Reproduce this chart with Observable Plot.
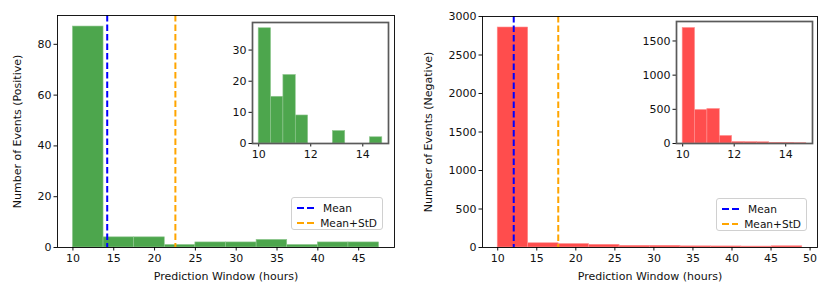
<!DOCTYPE html>
<html>
<head>
<meta charset="utf-8">
<script src="https://cdn.jsdelivr.net/npm/d3@7"></script>
<script src="https://cdn.jsdelivr.net/npm/@observablehq/plot@0.6"></script>
<style>
  body { margin: 0; background: white; font-family: "DejaVu Sans", sans-serif; }
  #wrap { position: relative; width: 830px; height: 294px; overflow: hidden; }
  #wrap > svg, #wrap > div { position: absolute; }
  #wrap svg text { font-family: "DejaVu Sans", sans-serif; }
  .legend { border: 1px solid #d0d0d0; border-radius: 3px; background: rgba(255,255,255,0.85);
            font-size: 10.6px; color: #111; padding: 2px 5px 2px 5px; box-sizing: border-box; }
  .legend .row { display: flex; align-items: center; height: 15px; }
  .legend svg { margin-right: 6px; }
</style>
</head>
<body>
<div id="wrap"></div>
<script>
// ---------- data ----------
// Positive events: main histogram
const posEdges = [10, 13.75, 17.5, 21.25, 25, 28.75, 32.5, 36.25, 40, 43.75, 47.5];
const posCounts = [87, 4, 4, 1, 2, 2, 3, 1, 2, 2];
// Positive events: inset histogram (10 to ~15 h)
const posInsetEdges = [10, 10.475, 10.95, 11.425, 11.9, 12.375, 12.85, 13.325, 13.8, 14.275, 14.75];
const posInsetCounts = [37, 15, 22, 9, 0, 0, 4, 0, 0, 2];
const posMean = 14.2;
const posMeanStd = 22.55;

// Negative events: main histogram
const negEdges = [10, 13.9, 17.8, 21.7, 25.6, 29.5, 33.4, 37.3, 41.2, 45.1, 49.0];
const negCounts = [2857, 55, 45, 35, 22, 22, 15, 14, 12, 16];
// Negative events: inset histogram
const negInsetEdges = [10, 10.48, 10.96, 11.44, 11.92, 12.4, 12.88, 13.36, 13.84, 14.32, 14.8];
const negInsetCounts = [1690, 490, 505, 110, 22, 20, 18, 10, 8, 4];
const negMean = 12.05;
const negMeanStd = 17.75;

// ticks
const posXTicks = [10, 15, 20, 25, 30, 35, 40, 45];
const posYTicks = [0, 20, 40, 60, 80];
const negXTicks = [10, 15, 20, 25, 30, 35, 40, 45, 50];
const negYTicks = [0, 500, 1000, 1500, 2000, 2500, 3000];
const insetXTicks = [10, 12, 14];
const posInsetYTicks = [0, 10, 20, 30];
const negInsetYTicks = [0, 500, 1000, 1500];

const legendLabels = ["Mean", "Mean+StD"];
const GREEN = "#4da64d", GREEN_EDGE = "#8fc78f";
const RED = "#ff4d4d", RED_EDGE = "#ff8f8f";
const BLUE = "#0000ff", ORANGE = "#ffa500";

function bins(edges, counts) {
  return counts.map((c, i) => ({x1: edges[i], x2: edges[i + 1], y: c}));
}

const fontStyle = {fontFamily: "'DejaVu Sans', sans-serif", fontSize: "11px", color: "#111", background: "transparent", overflow: "visible"};
const fmt = d => String(d);

function mainPlot(o) {
  return Plot.plot({
    width: 415, height: 294,
    marginLeft: o.ml, marginRight: o.mr, marginTop: o.mt, marginBottom: 47,
    style: fontStyle,
    x: {domain: o.xdom},
    y: {domain: o.ydom},
    marks: [
      Plot.rectY(bins(o.edges, o.counts), {x1: "x1", x2: "x2", y: "y", fill: o.fill, stroke: o.edge, strokeWidth: 0.6}),
      Plot.ruleX([o.mean], {stroke: BLUE, strokeWidth: 2, strokeDasharray: "6.5,3"}),
      Plot.ruleX([o.meanStd], {stroke: ORANGE, strokeWidth: 2, strokeDasharray: "6.5,3"}),
      Plot.axisX({ticks: o.xticks, tickSize: 3.5, tickPadding: 3, tickFormat: fmt,
                  label: "Prediction Window (hours)", labelAnchor: "center", labelArrow: "none", labelOffset: 32}),
      Plot.axisY({ticks: o.yticks, tickSize: 3.5, tickPadding: 2.5, tickFormat: fmt,
                  label: o.ylabel, labelAnchor: "center", labelArrow: "none", labelOffset: o.ylo}),
      Plot.frame({stroke: "black", strokeWidth: 0.9})
    ]
  });
}

function insetPlot(o) {
  return Plot.plot({
    width: o.w, height: o.h,
    marginLeft: o.ml, marginRight: 4, marginTop: 10, marginBottom: 20,
    style: fontStyle,
    x: {domain: o.xdom},
    y: {domain: o.ydom},
    marks: [
      Plot.frame({fill: "white", stroke: "none"}),
      Plot.rectY(bins(o.edges, o.counts), {x1: "x1", x2: "x2", y: "y", fill: o.fill, stroke: o.edge, strokeWidth: 0.6}),
      Plot.axisX({ticks: insetXTicks, tickSize: 3.5, tickPadding: 3, tickFormat: fmt, label: null}),
      Plot.axisY({ticks: o.yticks, tickSize: 3.5, tickPadding: 2.5, tickFormat: fmt, label: null}),
      Plot.frame({stroke: "#5a5a5a", strokeWidth: 1.7})
    ]
  });
}

function legend(left, top, w) {
  const div = document.createElement("div");
  div.className = "legend";
  div.style.left = left + "px"; div.style.top = top + "px";
  div.style.width = w + "px"; div.style.height = "33px";
  [[legendLabels[0], BLUE], [legendLabels[1], ORANGE]].forEach(([t, c]) => {
    const row = document.createElement("div");
    row.className = "row";
    row.innerHTML = `<svg width="20" height="6"><line x1="0" y1="3" x2="20" y2="3" stroke="${c}" stroke-width="2" stroke-dasharray="7,3"/></svg><span>${t}</span>`;
    div.appendChild(row);
  });
  return div;
}

const wrap = document.getElementById("wrap");

const p1 = mainPlot({ml: 57, mr: 21, mt: 15, xdom: [8.11, 49.39], ydom: [0, 91.35],
  edges: posEdges, counts: posCounts, fill: GREEN, edge: GREEN_EDGE, mean: posMean, meanStd: posMeanStd,
  xticks: posXTicks, yticks: posYTicks, ylabel: "Number of Events (Positive)", ylo: 44});
p1.style.left = "0px"; p1.style.top = "0px";
wrap.appendChild(p1);

const p2 = mainPlot({ml: 67, mr: 13, mt: 16, xdom: [8.05, 50.95], ydom: [0, 3000],
  edges: negEdges, counts: negCounts, fill: RED, edge: RED_EDGE, mean: negMean, meanStd: negMeanStd,
  xticks: negXTicks, yticks: negYTicks, ylabel: "Number of Events (Negative)", ylo: 58});
p2.style.left = "415px"; p2.style.top = "0px";
wrap.appendChild(p2);

const i1 = insetPlot({w: 170, h: 151, ml: 30, xdom: [9.7625, 14.9875], ydom: [0, 38.85],
  edges: posInsetEdges, counts: posInsetCounts, fill: GREEN, edge: GREEN_EDGE, yticks: posInsetYTicks});
i1.style.left = "222px"; i1.style.top = "12px";
wrap.appendChild(i1);

const i2 = insetPlot({w: 180, h: 152, ml: 40, xdom: [9.76, 15.04], ydom: [0, 1785],
  edges: negInsetEdges, counts: negInsetCounts, fill: RED, edge: RED_EDGE, yticks: negInsetYTicks});
i2.style.left = "636px"; i2.style.top = "11px";
wrap.appendChild(i2);

wrap.appendChild(legend(291, 197, 92));
wrap.appendChild(legend(716, 198, 91));
</script>
</body>
</html>
